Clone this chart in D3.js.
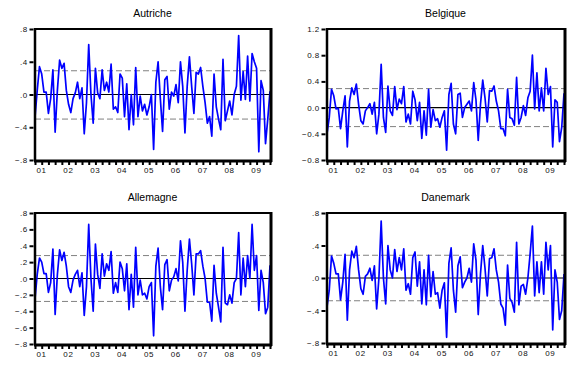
<!DOCTYPE html>
<html>
<head>
<meta charset="utf-8">
<script src="https://cdn.jsdelivr.net/npm/d3@7"></script>
<style>
  body { margin: 0; background: #fff; }
  svg { display: block; }
  text { font-family: "Liberation Sans", Arial, sans-serif; }
</style>
</head>
<body>
<svg id="chart" width="586" height="370"></svg>
<script>
// monthly series, 2001:01 onwards
var yearLabels = ["01", "02", "03", "04", "05", "06", "07", "08", "09"];

var autriche = [-0.28, 0.05, 0.34, 0.25, 0.03, 0.03, -0.23, -0.05, 0.30, -0.46, 0.05, 0.42,
  0.32, 0.38, 0.05, -0.12, -0.22, -0.05, 0.02, 0.15, -0.05, 0.08, -0.48, -0.10,
  0.61, 0.00, -0.35, 0.32, 0.02, -0.05, 0.30, 0.05, 0.15, 0.03, 0.37, -0.18,
  -0.15, -0.22, 0.25, 0.20, -0.27, 0.13, -0.43, 0.00, -0.37, 0.33, -0.27, -0.02,
  -0.20, -0.12, -0.25, -0.15, 0.00, -0.67, 0.15, 0.40, -0.05, -0.45, 0.18, 0.22,
  -0.18, 0.03, -0.02, 0.12, -0.10, 0.40, 0.10, -0.47, 0.10, 0.46, 0.10, -0.23,
  0.27, 0.25, 0.33, 0.10, -0.10, -0.35, -0.27, -0.51, 0.25, -0.15, -0.30, -0.43,
  0.43, -0.32, -0.20, -0.08, -0.25, 0.00, 0.10, 0.72, -0.07, 0.28, -0.06, 0.47,
  -0.08, 0.50, 0.40, 0.32, -0.70, 0.17, 0.05, -0.60, -0.30, 0.04];

var belgique = [-0.40, -0.15, 0.28, 0.18, -0.02, -0.01, -0.32, -0.05, 0.18, -0.60, 0.10, 0.30,
  0.20, 0.36, 0.05, -0.20, -0.25, -0.05, 0.00, 0.06, -0.10, 0.08, -0.40, -0.10,
  0.66, -0.15, -0.38, 0.33, -0.05, -0.12, 0.32, -0.03, 0.13, 0.06, 0.32, -0.22,
  -0.10, -0.25, 0.25, 0.12, -0.20, 0.08, -0.47, -0.05, -0.42, 0.28, -0.30, -0.03,
  -0.20, -0.17, -0.30, -0.15, -0.05, -0.65, 0.20, 0.37, -0.25, -0.40, 0.20, 0.22,
  -0.15, 0.00, 0.05, 0.10, -0.05, 0.38, 0.12, -0.50, 0.05, 0.42, 0.15, -0.22,
  0.26, 0.25, 0.33, 0.10, -0.05, -0.32, -0.32, -0.43, 0.28, -0.15, -0.17, -0.27,
  0.46, -0.25, -0.15, 0.03, -0.12, 0.15, 0.25, 0.80, -0.02, 0.53, -0.05, 0.30,
  -0.05, 0.60, 0.20, 0.32, -0.60, 0.12, 0.08, -0.52, -0.30, 0.22];

var allemagne = [-0.25, 0.05, 0.25, 0.20, 0.06, 0.06, -0.17, -0.05, 0.36, -0.44, 0.05, 0.35,
  0.22, 0.32, 0.15, -0.10, -0.17, -0.02, 0.05, 0.10, -0.10, 0.07, -0.45, -0.10,
  0.66, 0.00, -0.40, 0.42, 0.05, -0.12, 0.30, 0.03, 0.18, 0.10, 0.33, -0.18,
  -0.05, -0.17, 0.20, 0.12, -0.15, 0.18, -0.38, 0.05, -0.35, 0.38, -0.20, -0.02,
  -0.20, -0.18, -0.25, -0.10, -0.05, -0.70, 0.15, 0.37, -0.10, -0.38, 0.17, 0.23,
  -0.15, -0.02, 0.02, 0.12, -0.03, 0.46, 0.20, -0.40, 0.10, 0.48, 0.18, -0.20,
  0.30, 0.30, 0.34, 0.15, 0.00, -0.29, -0.29, -0.52, 0.16, -0.18, -0.35, -0.53,
  0.38, -0.30, -0.32, -0.20, -0.30, -0.05, 0.00, 0.56, -0.20, 0.25, -0.10, 0.28,
  0.00, 0.66, 0.10, 0.28, -0.39, 0.10, -0.05, -0.43, -0.35, 0.16];

var danemark = [-0.36, -0.15, 0.27, 0.18, 0.05, 0.05, -0.27, -0.05, 0.29, -0.52, 0.10, 0.33,
  0.25, 0.39, 0.10, -0.13, -0.20, 0.02, 0.05, 0.12, -0.03, 0.15, -0.38, 0.00,
  0.70, 0.00, -0.32, 0.40, 0.10, 0.00, 0.35, 0.08, 0.25, 0.10, 0.36, -0.15,
  -0.07, -0.20, 0.25, 0.32, -0.10, 0.20, -0.32, 0.10, -0.33, 0.28, -0.23, 0.08,
  -0.20, -0.18, -0.37, -0.15, -0.06, -0.73, 0.18, 0.37, -0.15, -0.42, 0.15, 0.26,
  -0.12, -0.05, 0.00, 0.12, -0.05, 0.42, 0.22, -0.45, 0.05, 0.40, 0.12, -0.22,
  0.24, 0.25, 0.36, 0.10, -0.05, -0.32, -0.37, -0.58, 0.16, -0.25, -0.30, -0.42,
  0.44, -0.33, -0.10, -0.08, -0.20, 0.00, 0.30, 0.64, -0.22, 0.20, -0.18, 0.20,
  -0.20, 0.44, 0.10, 0.40, -0.64, 0.10, -0.05, -0.51, -0.40, 0.05];

// bands (dashed lines)
var bandsAut = [0.29, -0.30];
var bandsBel = [0.29, -0.29];
var bandsAll = [0.28, -0.28];
var bandsDan = [0.28, -0.28];

var panels = [
  {title: "Autriche", data: autriche, bands: bandsAut, x0: 35, x1: 270, y0: 29, y1: 160,
   dom: [-0.8, 0.8], ticks: [-0.8, -0.4, 0, 0.4, 0.8], strip: true},
  {title: "Belgique", data: belgique, bands: bandsBel, x0: 327, x1: 564, y0: 29, y1: 160,
   dom: [-0.8, 1.2], ticks: [-0.8, -0.4, 0, 0.4, 0.8, 1.2], strip: false},
  {title: "Allemagne", data: allemagne, bands: bandsAll, x0: 35, x1: 270, y0: 213, y1: 344,
   dom: [-0.8, 0.8], ticks: [-0.8, -0.6, -0.4, -0.2, 0, 0.2, 0.4, 0.6, 0.8], strip: true},
  {title: "Danemark", data: danemark, bands: bandsDan, x0: 327, x1: 564, y0: 213, y1: 343,
   dom: [-0.8, 0.8], ticks: [-0.8, -0.4, 0, 0.4, 0.8], strip: true}
];

var svg = d3.select("#chart");
var fmt = d3.format(".1f");

panels.forEach(function (p) {
  var n = p.data.length;
  var x = d3.scaleLinear().domain([0, n - 1]).range([p.x0, p.x1]);
  var y = d3.scaleLinear().domain(p.dom).range([p.y1, p.y0]);
  var g = svg.append("g");

  // title
  g.append("text")
    .attr("x", (p.x0 + p.x1) / 2)
    .attr("y", p.y0 - 12)
    .attr("text-anchor", "middle")
    .style("font-size", "10.5px")
    .text(p.title);

  // dashed bands
  p.bands.forEach(function (b) {
    g.append("line")
      .attr("x1", p.x0).attr("x2", p.x1)
      .attr("y1", y(b)).attr("y2", y(b))
      .attr("stroke", "#808080")
      .attr("stroke-width", 1)
      .attr("stroke-dasharray", "6,3");
  });

  // zero line
  g.append("line")
    .attr("x1", p.x0).attr("x2", p.x1)
    .attr("y1", y(0)).attr("y2", y(0))
    .attr("stroke", "#000")
    .attr("stroke-width", 1.2);

  // series
  var line = d3.line()
    .x(function (d, i) { return x(i); })
    .y(function (d) { return y(d); });

  g.append("path")
    .datum(p.data)
    .attr("d", line)
    .attr("fill", "none")
    .attr("stroke", "#0000ff")
    .attr("stroke-width", 1.7)
    .attr("stroke-linejoin", "round");

  // frame
  g.append("line").attr("x1", p.x0).attr("x2", p.x1).attr("y1", p.y0).attr("y2", p.y0)
    .attr("stroke", "#000").attr("stroke-width", 2);
  g.append("line").attr("x1", p.x0).attr("x2", p.x0).attr("y1", p.y0 - 1).attr("y2", p.y1 + 1)
    .attr("stroke", "#000").attr("stroke-width", 2.5);
  g.append("line").attr("x1", p.x1 + 1).attr("x2", p.x1 + 1).attr("y1", p.y0 - 1).attr("y2", p.y1 + 2)
    .attr("stroke", "#000").attr("stroke-width", 3);
  g.append("line").attr("x1", p.x0 - 1).attr("x2", p.x1 + 2).attr("y1", p.y1 + 1).attr("y2", p.y1 + 1)
    .attr("stroke", "#000").attr("stroke-width", 3);

  // y axis
  var yAxis = d3.axisLeft(y)
    .tickValues(p.ticks)
    .tickSize(4)
    .tickPadding(2)
    .tickFormat(function (d) {
      var s = fmt(d);
      if (s === "-0.0") s = "0.0";
      if (p.strip) s = s.replace("0.", ".");
      return s;
    });
  var ya = g.append("g")
    .attr("transform", "translate(" + (p.x0 - 1.5) + ",0)")
    .call(yAxis);
  ya.select(".domain").remove();
  ya.selectAll("line").attr("stroke", "#000").attr("stroke-width", 2);
  ya.selectAll("text")
    .style("font-size", "8px")
    .style("letter-spacing", "0.4px")
    .style("font-family", "Liberation Sans, Arial, sans-serif")
    .attr("fill", "#111");

  // x axis: quarterly ticks, year labels
  var qTicks = d3.range(0, n, 3);
  var xa = g.append("g")
    .attr("transform", "translate(0," + (p.y1 + 2) + ")")
    .call(d3.axisBottom(x).tickValues(qTicks).tickSize(3).tickFormat(""));
  xa.select(".domain").remove();
  xa.selectAll("line").attr("stroke", "#000").attr("stroke-width", 2);

  g.selectAll(".yl")
    .data(yearLabels)
    .enter()
    .append("text")
    .attr("x", function (d, i) { return x(i * 12) + 1.5; })
    .attr("y", p.y1 + 13)
    .style("font-size", "8px")
    .style("letter-spacing", "0.6px")
    .attr("fill", "#111")
    .text(function (d) { return d; });
});
</script>
</body>
</html>
